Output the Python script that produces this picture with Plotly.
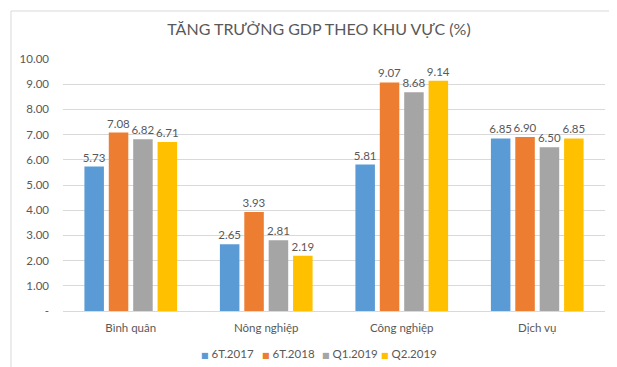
import plotly.graph_objects as go

categories = ["Bình quân", "Nông nghiệp", "Công nghiệp", "Dịch vụ"]
series_names = ["6T.2017", "6T.2018", "Q1.2019", "Q2.2019"]
v_6t2017 = [5.73, 2.65, 5.81, 6.85]
v_6t2018 = [7.08, 3.93, 9.07, 6.90]
v_q12019 = [6.82, 2.81, 8.68, 6.50]
v_q22019 = [6.71, 2.19, 9.14, 6.85]
colors = ["#5B9BD5", "#ED7D31", "#A5A5A5", "#FFC000"]
tick_vals = [0, 1, 2, 3, 4, 5, 6, 7, 8, 9, 10]
tick_text = ["-", "1.00", "2.00", "3.00", "4.00", "5.00", "6.00", "7.00", "8.00", "9.00", "10.00"]

FONT = "Lato, 'Liberation Sans', sans-serif"
TXT = "#595959"
W, H = 617, 367
L, R, T, B = 55, 20, 51, 64
PW, PH = W - L - R, H - T - B

fig = go.Figure()
for name, vals, col in zip(series_names, [v_6t2017, v_6t2018, v_q12019, v_q22019], colors):
    fig.add_trace(go.Bar(
        x=categories, y=vals, name=name, marker=dict(color=col, line=dict(width=0)),
        text=[f"{v:.2f}" for v in vals], textposition="outside", constraintext="none",
        textfont=dict(size=11.5, color=TXT, family=FONT), cliponaxis=False,
        showlegend=False,
    ))

# manual compact legend (Excel-like)
legend_x_px = [191, 252, 312, 371]
for name, col, xp in zip(series_names, colors, legend_x_px):
    fig.add_annotation(
        xref="paper", yref="paper", x=(xp - L) / PW, y=-(345 - (T + PH)) / PH,
        xanchor="left", yanchor="middle", showarrow=False,
        text=f"<span style='color:{col};font-family:DejaVu Sans;font-size:8px'>■</span> {name}",
        font=dict(size=11.5, color=TXT, family=FONT),
    )

fig.update_layout(
    width=W, height=H,
    paper_bgcolor="white", plot_bgcolor="white",
    margin=dict(l=L, r=R, t=T, b=B),
    barmode="group", bargap=0.28, bargroupgap=0.2,
    showlegend=False,
    title=dict(text="TĂNG TRƯỞNG GDP THEO KHU VỰC (%)", x=(311 - L) / PW, xref="paper",
               xanchor="center", y=1 - 21 / H, yanchor="middle",
               font=dict(size=16, color=TXT, family=FONT)),
    font=dict(family=FONT, color=TXT, size=11),
    xaxis=dict(showline=True, linecolor="#D9D9D9", linewidth=1, ticks="",
               tickfont=dict(size=11.5, color=TXT), showgrid=False, ticklabelstandoff=6),
    yaxis=dict(range=[0, 10], tickvals=tick_vals, ticktext=tick_text,
               showgrid=True, gridcolor="#D9D9D9", gridwidth=1, zeroline=False,
               tickfont=dict(size=11.5, color=TXT), ticks="", ticklen=0,
               showline=False, ticklabelstandoff=13),
)

# chart border
fig.add_shape(type="rect", xref="paper", yref="paper",
              x0=(3 - L) / PW, x1=(612 - L) / PW,
              y0=-(364 - (T + PH)) / PH, y1=1 + (T - 3) / PH,
              line=dict(color="#D9D9D9", width=1), fillcolor="rgba(0,0,0,0)", layer="below")

fig.write_html("out.html")
